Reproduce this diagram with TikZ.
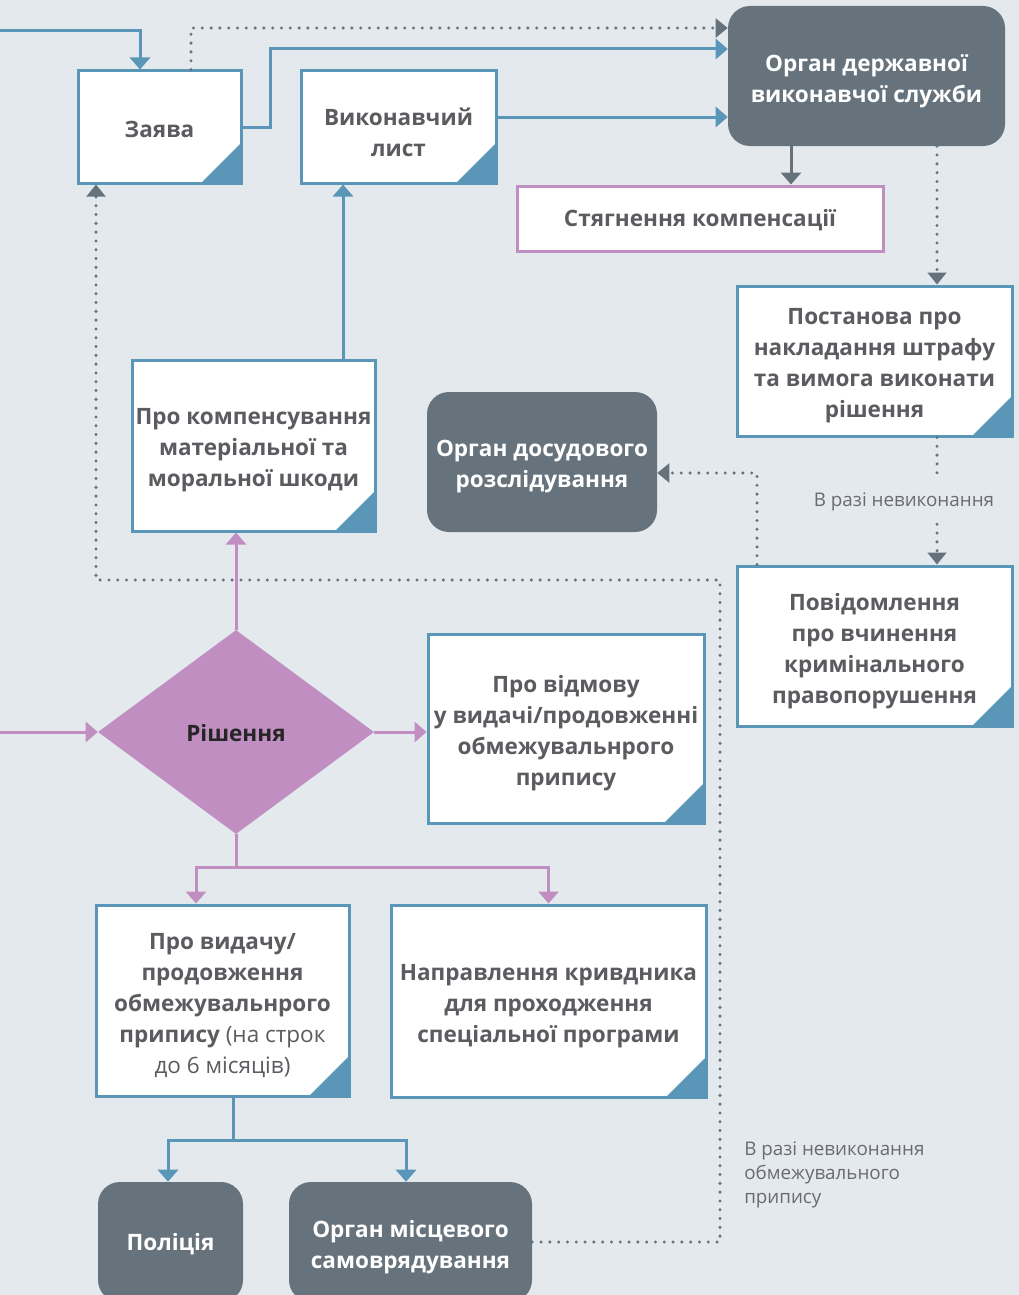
\documentclass[tikz,border=0pt]{standalone}
\usepackage{fontspec}
\setmainfont{Open Sans}
\usetikzlibrary{arrows.meta,shapes.geometric}
\definecolor{bgc}{HTML}{E4E9ED}
\definecolor{bluec}{HTML}{5A96B8}
\definecolor{darkc}{HTML}{66737C}
\definecolor{purpc}{HTML}{C08EC1}
\definecolor{txtc}{HTML}{5B5C60}
\definecolor{dotc}{HTML}{66727B}
\definecolor{lblc}{HTML}{6A6B6F}
\begin{document}
\begin{tikzpicture}[x=0.75pt,y=-0.75pt,
  every node/.style={inner sep=0pt},
  boxfont/.style={font=\bfseries\fontsize{16.9pt}{23.25pt}\selectfont, align=center},
  dtext/.style={boxfont, text=txtc},
  wtext/.style={boxfont, text=white},
  docbox/.style={draw=bluec, line width=2.25pt, fill=white,
    path picture={\fill[bluec] (path picture bounding box.south east) -- ++(-30pt,0pt) -- ++(30pt,30pt) -- cycle;}},
  plainbox/.style={draw=purpc, line width=2.25pt, fill=white},
  organ/.style={fill=darkc, rounded corners=16.5pt},
  decision/.style={fill=purpc, diamond},
  lbl/.style={font=\fontsize{14.1pt}{18pt}\selectfont, text=lblc},
  blink/.style={draw=bluec, line width=2.25pt, -{Triangle[width=15pt,length=9pt]}},
  blinknt/.style={draw=bluec, line width=2.25pt},
  plink/.style={draw=purpc, line width=2.25pt, -{Triangle[width=15pt,length=9pt]}},
  plinknt/.style={draw=purpc, line width=2.25pt},
  glink/.style={draw=dotc, line width=2.25pt, -{Triangle[width=15pt,length=9pt]}},
  dlink/.style={draw=dotc, line width=2.5pt, line cap=round, dash pattern=on 0pt off 6.6pt},
  dlinka/.style={dlink, -{Triangle[width=14pt,length=9pt,line cap=butt]}},
  tdown/.style={yshift=-3.75pt},
  tdownone/.style={yshift=-1.5pt},
]
\path[use as bounding box, fill=bgc] (0,0) rectangle (1019,1295);
\clip (0,0) rectangle (1019,1295);

% ---------- boxes ----------
\node[docbox, minimum width=163*0.75pt, minimum height=112*0.75pt] (zayava) at (159.5,127) {};
\node[docbox, minimum width=195*0.75pt, minimum height=112*0.75pt] (vyk) at (398.5,127) {};
\node[organ, minimum width=277*0.75pt, minimum height=140*0.75pt] (dvs) at (866.5,76) {};
\node[plainbox, minimum width=366*0.75pt, minimum height=65*0.75pt] (styah) at (700,218.5) {};
\node[docbox, minimum width=275*0.75pt, minimum height=150*0.75pt] (post) at (874.5,361) {};
\node[docbox, minimum width=275*0.75pt, minimum height=160*0.75pt] (povid) at (874.5,646) {};
\node[organ, minimum width=230*0.75pt, minimum height=140*0.75pt] (dosud) at (542,462) {};
\node[docbox, minimum width=243*0.75pt, minimum height=171*0.75pt] (komp) at (253.5,445.5) {};
\node[decision, minimum width=276*0.75pt, minimum height=204*0.75pt] (rish) at (236,732) {};
\node[docbox, minimum width=276*0.75pt, minimum height=189*0.75pt] (vidm) at (566,728.5) {};
\node[docbox, minimum width=253*0.75pt, minimum height=191*0.75pt] (vyd) at (222.5,1000.5) {};
\node[docbox, minimum width=315*0.75pt, minimum height=192*0.75pt] (naprav) at (548.5,1001) {};
\node[organ, minimum width=145*0.75pt, minimum height=120*0.75pt] (police) at (170.5,1242) {};
\node[organ, minimum width=243*0.75pt, minimum height=120*0.75pt] (mists) at (410.5,1242) {};

% ---------- texts ----------
\node[dtext, tdownone] (zayava-t) at (zayava.center) {Заява};
\node[dtext, tdown] (vyk-t) at (vyk.center) {Виконавчий\\лист};
\node[wtext, tdown] (dvs-t) at (dvs.center) {Орган державної\\виконавчої служби};
\node[dtext, tdownone] (styah-t) at (styah.center) {Стягнення компенсації};
\node[dtext, tdown] (post-t) at (post.center) {Постанова про\\накладання штрафу\\та вимога виконати\\рішення};
\node[dtext, tdown] (povid-t) at (povid.center) {Повідомлення\\про вчинення\\кримінального\\правопорушення};
\node[wtext, tdown] (dosud-t) at (dosud.center) {Орган досудового\\розслідування};
\node[dtext, tdown] (komp-t) at (komp.center) {Про компенсування\\матеріальної та\\моральної шкоди};
\node[boxfont, text=black!85, yshift=-1pt] (rish-t) at (rish.center) {Рішення};
\node[dtext, tdown] (vidm-t) at (vidm.center) {Про відмову\\у видачі/продовженні\\обмежувальнрого\\припису};
\node[dtext, tdown] (vyd-t) at (vyd.center) {Про видачу/\\продовження\\обмежувальнрого\\припису {\mdseries(на строк}\\{\mdseries до 6 місяців)}};
\node[dtext, tdown] (naprav-t) at (naprav.center) {Направлення кривдника\\для проходження\\спеціальної програми};
\node[wtext, tdownone] (police-t) at (police.center) {Поліція};
\node[wtext, tdown] (mists-t) at (mists.center) {Орган місцевого\\самоврядування};

\node[lbl, fill=bgc, minimum width=190*0.75pt, minimum height=44*0.75pt] (lab1) at (904,502) {В разі невиконання};
\node[lbl, anchor=west, align=left] (lab2) at (744,1175) {В разі невиконання\\обмежувального\\припису};

% ---------- connectors ----------
\coordinate (inA) at (0,31);
\draw[blink] (inA) -| ([xshift=-14.625pt]zayava.north);
\draw[dlinka] ([xshift=23.625pt]zayava.north) |- ([yshift=36pt]dvs.west);
\draw[blink] (zayava.east) -- ++(28,0) |- ([yshift=20.25pt]dvs.west);
\coordinate (v1) at ([yshift=7.5pt]vyk.east);
\draw[blink] (v1) -- (v1 -| dvs.west);
\coordinate (d1) at ([xshift=-56.625pt]dvs.south);
\draw[glink] (d1) -- (d1 |- styah.north);
\coordinate (d2) at ([xshift=52.875pt]dvs.south);
\draw[dlinka] (d2) -- (d2 |- post.north);
\coordinate (p1) at ([xshift=46.875pt]post.south);
\draw[dlink] (p1) -- (p1 |- lab1.north);
\draw[dlinka] (p1 |- lab1.south) -- (p1 |- povid.north);
\coordinate (p2) at ([xshift=-88.125pt]povid.north);
\draw[dlinka] (p2) |- ([yshift=-8.25pt]dosud.east);
\coordinate (k1) at ([xshift=67.125pt]komp.north);
\draw[blink] (k1) -- (k1 |- vyk.south);
\draw[plink] (rish.north) -- (rish.north |- komp.south);
\coordinate (inB) at (0,732);
\draw[plink] (inB) -- (rish.west);
\draw[plink] (rish.east) -- (rish.east -| vidm.west);
\draw[plinknt] (rish.south) -- ++(0,33) coordinate (j1);
\draw[plink] (j1) -| ([xshift=-19.875pt]vyd.north);
\draw[plink] (j1) -| (naprav.north);
\draw[blinknt] ([xshift=7.875pt]vyd.south) -- ++(0,43) coordinate (j2);
\draw[blink] (j2) -| ([xshift=-1.875pt]police.north);
\draw[blink] (j2) -| ([xshift=-3.375pt]mists.north);
\coordinate (c1) at (720,580);
\draw[dlinka] (mists.east) -| (c1) -| ([xshift=-47.625pt]zayava.south);
\end{tikzpicture}
\end{document}
